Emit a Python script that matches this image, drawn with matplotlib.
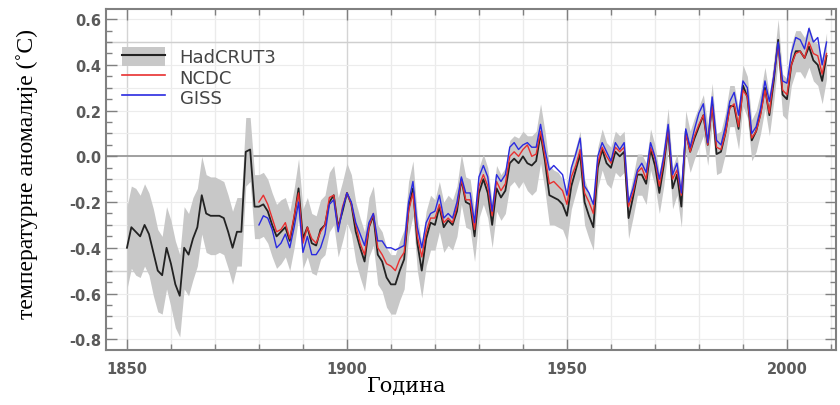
import numpy as np
import matplotlib
matplotlib.use("Agg")
import matplotlib.pyplot as plt
from matplotlib.patches import Patch
from matplotlib.lines import Line2D
from matplotlib.ticker import MultipleLocator

# HadCRUT3 annual anomalies, 1850-2009
had_years = np.arange(1850, 2010)
hadcrut3 = [
    -0.40, -0.31, -0.33, -0.35, -0.30, -0.34, -0.42, -0.50, -0.52, -0.40,
    -0.47, -0.56, -0.61, -0.40, -0.43, -0.36, -0.31, -0.17, -0.25, -0.26,
    -0.26, -0.26, -0.27, -0.33, -0.40, -0.33, -0.33, 0.02, 0.03, -0.22,
    -0.22, -0.21, -0.24, -0.30, -0.35, -0.33, -0.31, -0.37, -0.27, -0.14,
    -0.36, -0.31, -0.38, -0.39, -0.32, -0.30, -0.20, -0.17, -0.31, -0.24,
    -0.16, -0.21, -0.33, -0.40, -0.46, -0.31, -0.26, -0.43, -0.46, -0.53,
    -0.56, -0.56, -0.50, -0.45, -0.23, -0.14, -0.38, -0.50, -0.36, -0.29,
    -0.30, -0.22, -0.31, -0.28, -0.30, -0.24, -0.10, -0.20, -0.21, -0.35,
    -0.16, -0.10, -0.16, -0.30, -0.14, -0.18, -0.15, -0.03, -0.01, -0.03,
    0.00, -0.03, -0.04, -0.02, 0.10, -0.02, -0.17, -0.18, -0.19, -0.21,
    -0.26, -0.13, -0.06, 0.01, -0.20, -0.26, -0.31, -0.05, 0.03, -0.03,
    -0.05, 0.02, 0.00, 0.02, -0.27, -0.18, -0.08, -0.08, -0.12, 0.03,
    -0.04, -0.16, -0.04, 0.12, -0.14, -0.08, -0.22, 0.11, 0.02, 0.08,
    0.13, 0.18, 0.05, 0.23, 0.01, 0.02, 0.10, 0.22, 0.22, 0.12,
    0.31, 0.26, 0.07, 0.11, 0.19, 0.30, 0.18, 0.33, 0.51, 0.27,
    0.25, 0.40, 0.46, 0.46, 0.43, 0.48, 0.42, 0.40, 0.33, 0.44,
]
# half-width of the HadCRUT3 uncertainty band
hadcrut3_err = [
    0.18, 0.18, 0.19, 0.18, 0.18, 0.18, 0.19, 0.18, 0.17, 0.18,
    0.19, 0.19, 0.18, 0.18, 0.18, 0.18, 0.17, 0.17, 0.17, 0.17,
    0.17, 0.16, 0.16, 0.16, 0.16, 0.15, 0.15, 0.15, 0.14, 0.14,
    0.14, 0.14, 0.14, 0.14, 0.14, 0.14, 0.13, 0.13, 0.13, 0.13,
    0.13, 0.13, 0.13, 0.13, 0.13, 0.13, 0.13, 0.13, 0.13, 0.13,
    0.13, 0.13, 0.13, 0.13, 0.13, 0.13, 0.13, 0.13, 0.13, 0.13,
    0.13, 0.13, 0.13, 0.13, 0.12, 0.12, 0.12, 0.12, 0.12, 0.12,
    0.11, 0.11, 0.11, 0.11, 0.11, 0.11, 0.11, 0.11, 0.11, 0.11,
    0.11, 0.11, 0.11, 0.10, 0.10, 0.10, 0.10, 0.10, 0.10, 0.11,
    0.11, 0.12, 0.13, 0.13, 0.13, 0.13, 0.13, 0.12, 0.12, 0.11,
    0.11, 0.10, 0.10, 0.10, 0.10, 0.10, 0.10, 0.09, 0.09, 0.09,
    0.09, 0.09, 0.09, 0.09, 0.09, 0.09, 0.09, 0.09, 0.09, 0.09,
    0.09, 0.09, 0.09, 0.09, 0.09, 0.09, 0.09, 0.09, 0.09, 0.09,
    0.09, 0.09, 0.09, 0.09, 0.09, 0.09, 0.09, 0.09, 0.09, 0.09,
    0.09, 0.09, 0.09, 0.09, 0.09, 0.09, 0.09, 0.09, 0.09, 0.09,
    0.09, 0.09, 0.09, 0.09, 0.09, 0.09, 0.09, 0.09, 0.10, 0.10,
]

# NCDC and GISS, 1880-2009
other_years = np.arange(1880, 2010)
ncdc = [
    -0.20, -0.17, -0.21, -0.27, -0.33, -0.32, -0.29, -0.36, -0.26, -0.16,
    -0.38, -0.31, -0.36, -0.38, -0.33, -0.30, -0.18, -0.17, -0.32, -0.22,
    -0.16, -0.21, -0.30, -0.38, -0.43, -0.31, -0.25, -0.40, -0.43, -0.47,
    -0.48, -0.50, -0.45, -0.42, -0.24, -0.16, -0.35, -0.44, -0.33, -0.27,
    -0.27, -0.21, -0.29, -0.27, -0.29, -0.22, -0.10, -0.19, -0.19, -0.32,
    -0.13, -0.08, -0.13, -0.26, -0.11, -0.15, -0.12, 0.00, 0.02, 0.00,
    0.03, 0.05, 0.00, 0.01, 0.11, 0.00, -0.12, -0.11, -0.13, -0.15,
    -0.21, -0.09, -0.04, 0.03, -0.16, -0.20, -0.25, -0.03, 0.04, 0.00,
    -0.03, 0.04, 0.02, 0.04, -0.22, -0.16, -0.07, -0.05, -0.10, 0.04,
    -0.01, -0.13, -0.02, 0.12, -0.10, -0.06, -0.17, 0.10, 0.02, 0.09,
    0.14, 0.18, 0.05, 0.22, 0.04, 0.03, 0.10, 0.21, 0.23, 0.13,
    0.29, 0.26, 0.08, 0.11, 0.18, 0.29, 0.19, 0.35, 0.49, 0.29,
    0.27, 0.40, 0.45, 0.46, 0.43, 0.50, 0.45, 0.44, 0.36, 0.45,
]
giss = [
    -0.30, -0.26, -0.27, -0.32, -0.40, -0.38, -0.34, -0.40, -0.31, -0.20,
    -0.42, -0.35, -0.43, -0.43, -0.40, -0.34, -0.21, -0.19, -0.33, -0.23,
    -0.16, -0.20, -0.29, -0.34, -0.39, -0.29, -0.25, -0.37, -0.37, -0.40,
    -0.40, -0.41, -0.40, -0.39, -0.20, -0.11, -0.31, -0.40, -0.29, -0.25,
    -0.24, -0.17, -0.27, -0.25, -0.27, -0.20, -0.09, -0.16, -0.16, -0.29,
    -0.09, -0.04, -0.09, -0.24, -0.08, -0.11, -0.08, 0.04, 0.06, 0.03,
    0.05, 0.06, 0.04, 0.04, 0.14, 0.03, -0.06, -0.04, -0.06, -0.08,
    -0.17, -0.05, 0.01, 0.08, -0.13, -0.16, -0.21, 0.00, 0.06, 0.02,
    -0.02, 0.06, 0.03, 0.06, -0.20, -0.14, -0.06, -0.03, -0.07, 0.06,
    0.00, -0.10, 0.00, 0.14, -0.08, -0.03, -0.16, 0.12, 0.04, 0.12,
    0.19, 0.23, 0.06, 0.26, 0.07, 0.05, 0.13, 0.24, 0.28, 0.18,
    0.33, 0.30, 0.10, 0.13, 0.21, 0.33, 0.24, 0.35, 0.50, 0.33,
    0.32, 0.45, 0.52, 0.51, 0.47, 0.56, 0.50, 0.52, 0.40, 0.50,
]

had = np.array(hadcrut3)
err = np.array(hadcrut3_err)

fig = plt.figure(figsize=(8.4, 4.06), dpi=100)
ax = fig.add_axes([0.126, 0.135, 0.869, 0.84])

# grid
ax.xaxis.set_minor_locator(MultipleLocator(10))
ax.yaxis.set_minor_locator(MultipleLocator(0.05))
for x in range(1850, 2011, 10):
    c = "#d4d4d4" if x % 50 == 0 else "#ebebeb"
    ax.axvline(x, color=c, lw=1.0, zorder=0)
for y in np.arange(-0.8, 0.61, 0.1):
    ax.axhline(y, color="#ececec", lw=0.8, zorder=0)
for y in (-0.5, 0.5):
    ax.axhline(y, color="#cfcfcf", lw=1.0, zorder=0)
ax.axhline(0.0, color="#999999", lw=1.3, zorder=1)

ax.fill_between(had_years, had - err, had + err, color="#c8c8c8", lw=0, zorder=2)
ax.plot(had_years, had, color="#222222", lw=1.3, zorder=3)
ax.plot(other_years, ncdc, color="#e83030", lw=1.0, zorder=4)
ax.plot(other_years, giss, color="#2a2ae0", lw=1.0, zorder=5)

ax.set_xlim(1845.2, 2011.1)
ax.set_ylim(-0.848, 0.644)

for s in ax.spines.values():
    s.set_color("#808080")
    s.set_linewidth(1.5)
ax.tick_params(which="both", direction="in", top=True, right=True, colors="#808080",
               labelcolor="#5a5a5a")
ax.tick_params(which="major", length=8, width=1.0)
ax.tick_params(which="minor", length=4, width=1.0)
ax.tick_params(axis="x", pad=8)
ax.set_yticks([-0.8, -0.6, -0.4, -0.2, 0.0, 0.2, 0.4, 0.6])
ax.set_yticklabels(["-0.8", "-0.6", "-0.4", "-0.2", "0.0", "0.2", "0.4", "0.6"],
                   fontsize=10.5, fontweight="bold")
ax.set_xticks([1850, 1900, 1950, 2000])
ax.set_xticklabels(["1850", "1900", "1950", "2000"], fontsize=10.5, fontweight="bold")

ax.set_ylabel("температурне аномалије (˚C)", family="Liberation Serif", fontsize=17)
ax.yaxis.set_label_coords(-0.093, 0.52)
ax.set_xlabel("Година", family="DejaVu Serif", fontsize=15)
ax.xaxis.set_label_coords(0.412, -0.075)

handles = [
    (Patch(facecolor="#c8c8c8", edgecolor="none"), Line2D([], [], color="#222222", lw=1.5)),
    Line2D([], [], color="#e83030", lw=1.2),
    Line2D([], [], color="#2a2ae0", lw=1.2),
]
leg = ax.legend(handles, ["HadCRUT3", "NCDC", "GISS"], loc="upper left",
                bbox_to_anchor=(0.012, 0.91), frameon=False, fontsize=13,
                handlelength=2.4, handleheight=1.2, labelspacing=0.05,
                handletextpad=0.8, borderaxespad=0)
for t in leg.get_texts():
    t.set_color("#444444")

fig.savefig("out.png", dpi=100)
